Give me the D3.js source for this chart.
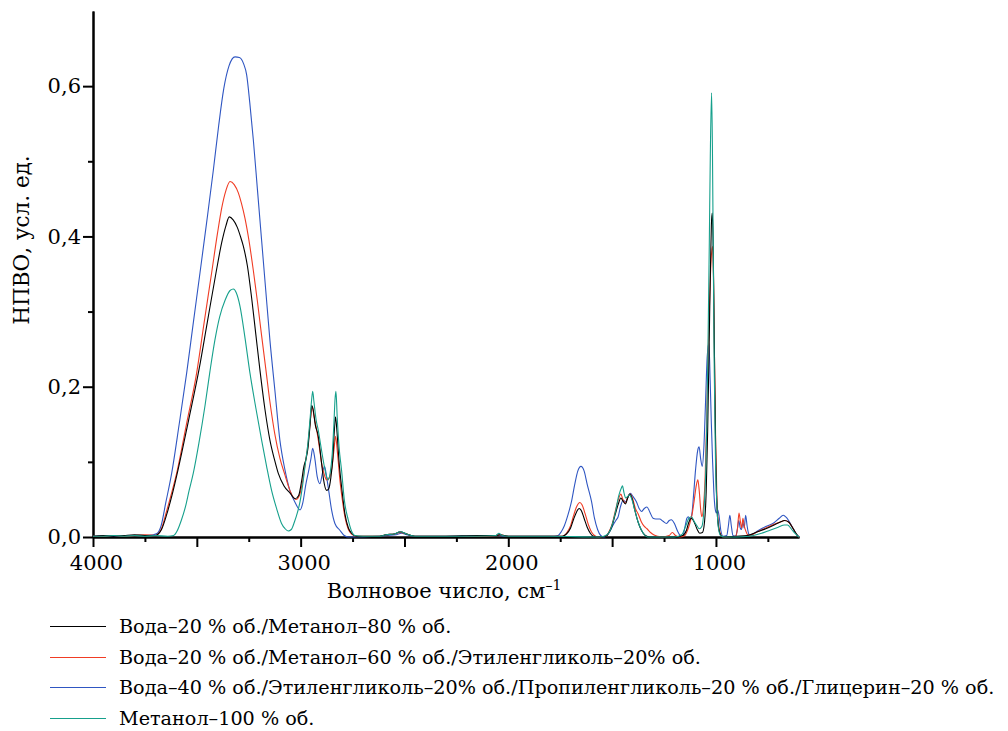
<!DOCTYPE html>
<html>
<head>
<meta charset="utf-8">
<title>НПВО спектры</title>
<style>
  body { margin: 0; background: #fff; }
  .axis path, .axis line { stroke: #000; stroke-width: 2; fill: none; }
  .spec { fill: none; stroke-width: 1.1; stroke-linejoin: round; }
</style>
</head>
<body>
<svg width="1008" height="731"></svg>
<script src="https://cdn.jsdelivr.net/npm/d3@7"></script>
<script>
// spectra: [wavenumber, absorbance]
var specWater20Meth80 = [
  [4000,0.001],[3950,0.002],[3900,0.001],[3850,0.002],[3800,0.003],[3750,0.002],[3700,0.002],[3690,0.003],[3670,0.01],[3645,0.03],[3620,0.055],[3590,0.09],[3540,0.155],[3488,0.225],[3450,0.285],[3408,0.351],[3380,0.392],[3360,0.414],[3344,0.426],[3325,0.422],[3305,0.412],[3290,0.4],[3276,0.387],[3256,0.36],[3236,0.318],[3216,0.27],[3196,0.222],[3172,0.17],[3148,0.129],[3125,0.102],[3108,0.085],[3080,0.068],[3050,0.058],[3027,0.051],[3010,0.055],[2995,0.075],[2985,0.093],[2975,0.103],[2965,0.118],[2955,0.148],[2947,0.175],[2940,0.17],[2930,0.15],[2915,0.134],[2900,0.1],[2890,0.077],[2875,0.062],[2865,0.064],[2855,0.078],[2845,0.105],[2838,0.14],[2832,0.16],[2825,0.14],[2815,0.1],[2800,0.06],[2787,0.031],[2770,0.012],[2755,0.005],[2730,0.001],[2620,0.001],[2590,0.003],[2550,0.004],[2520,0.007],[2490,0.004],[2450,0.001],[2300,0.001],[2150,0.002],[2060,0.002],[2040,0.003],[2000,0.001],[1760,0.001],[1740,0.001],[1720,0.004],[1700,0.012],[1685,0.024],[1670,0.034],[1659,0.038],[1648,0.035],[1635,0.025],[1620,0.013],[1605,0.005],[1590,0.001],[1570,0],[1530,0.001],[1515,0.006],[1500,0.015],[1485,0.03],[1470,0.044],[1458,0.052],[1448,0.048],[1436,0.044],[1425,0.052],[1415,0.057],[1405,0.052],[1390,0.035],[1375,0.02],[1359,0.009],[1340,0.002],[1320,0],[1200,0],[1160,0.002],[1142,0.009],[1130,0.02],[1118,0.025],[1102,0.018],[1090,0.01],[1078,0.005],[1065,0.006],[1055,0.02],[1047,0.06],[1040,0.14],[1033,0.25],[1027,0.35],[1022,0.415],[1018,0.431],[1014,0.4],[1010,0.31],[1005,0.19],[1000,0.09],[994,0.035],[987,0.012],[978,0.003],[965,0],[900,0.001],[850,0.002],[836,0.003],[800,0.007],[760,0.011],[720,0.016],[690,0.02],[670,0.022],[650,0.02],[630,0.012],[615,0.005],[605,0.001],[600,0]
];
var specWater20Meth60EG20 = [
  [4000,0.001],[3950,0.001],[3900,0.002],[3850,0.001],[3800,0.002],[3750,0.003],[3700,0.002],[3690,0.003],[3672,0.01],[3645,0.035],[3620,0.06],[3597,0.085],[3550,0.15],[3501,0.218],[3465,0.285],[3429,0.351],[3400,0.405],[3380,0.438],[3360,0.461],[3340,0.473],[3320,0.469],[3300,0.458],[3285,0.444],[3268,0.424],[3248,0.393],[3228,0.355],[3208,0.313],[3188,0.268],[3168,0.224],[3148,0.18],[3125,0.138],[3100,0.105],[3075,0.082],[3052,0.062],[3023,0.05],[3005,0.056],[2990,0.075],[2978,0.098],[2965,0.122],[2955,0.15],[2944,0.173],[2935,0.16],[2920,0.138],[2910,0.12],[2899,0.098],[2885,0.082],[2875,0.076],[2862,0.079],[2848,0.095],[2838,0.12],[2832,0.134],[2822,0.11],[2811,0.076],[2797,0.045],[2787,0.027],[2770,0.01],[2755,0.004],[2730,0.001],[2620,0.001],[2590,0.003],[2550,0.004],[2520,0.006],[2490,0.004],[2450,0.001],[2300,0.001],[2150,0.001],[2060,0.002],[2040,0.003],[2000,0.001],[1760,0.001],[1740,0.001],[1720,0.005],[1700,0.015],[1685,0.029],[1670,0.041],[1655,0.046],[1645,0.043],[1630,0.031],[1615,0.017],[1600,0.007],[1585,0.002],[1570,0],[1530,0.001],[1515,0.007],[1500,0.017],[1485,0.034],[1470,0.05],[1458,0.057],[1448,0.05],[1436,0.045],[1425,0.053],[1413,0.057],[1400,0.05],[1388,0.038],[1375,0.031],[1359,0.02],[1345,0.014],[1332,0.011],[1315,0.006],[1300,0.003],[1280,0.001],[1260,0],[1225,0.002],[1210,0.006],[1195,0.002],[1175,0],[1150,0.002],[1138,0.008],[1126,0.018],[1115,0.03],[1105,0.048],[1095,0.068],[1087,0.076],[1080,0.06],[1073,0.035],[1068,0.027],[1060,0.04],[1052,0.08],[1045,0.15],[1038,0.24],[1030,0.32],[1023,0.37],[1016,0.387],[1012,0.35],[1007,0.24],[1001,0.12],[995,0.05],[988,0.018],[978,0.004],[965,0],[905,0.001],[896,0.012],[889,0.032],[882,0.02],[876,0.012],[870,0.025],[864,0.015],[856,0.008],[848,0.003],[838,0.002],[800,0.007],[760,0.012],[720,0.017],[690,0.02],[668,0.022],[650,0.02],[630,0.012],[615,0.005],[605,0.001],[600,0]
];
var specWater40Glycols = [
  [4000,0.001],[3950,0.002],[3900,0.001],[3850,0.002],[3800,0.002],[3750,0.002],[3710,0.003],[3690,0.005],[3672,0.015],[3650,0.045],[3621,0.085],[3585,0.15],[3549,0.218],[3517,0.285],[3485,0.351],[3453,0.418],[3421,0.487],[3395,0.547],[3370,0.597],[3345,0.627],[3316,0.639],[3295,0.638],[3275,0.63],[3260,0.615],[3245,0.578],[3228,0.529],[3208,0.462],[3188,0.395],[3168,0.328],[3148,0.262],[3124,0.195],[3100,0.129],[3076,0.09],[3052,0.062],[3025,0.045],[3003,0.036],[2990,0.045],[2975,0.07],[2960,0.09],[2950,0.105],[2942,0.118],[2932,0.105],[2920,0.08],[2907,0.071],[2895,0.085],[2885,0.094],[2875,0.08],[2865,0.062],[2851,0.036],[2835,0.018],[2811,0.009],[2790,0.002],[2770,0],[2620,0.001],[2580,0.002],[2540,0.003],[2515,0.005],[2490,0.003],[2450,0.001],[2300,0.001],[2150,0.002],[2050,0.002],[2000,0.001],[1780,0.001],[1760,0.002],[1745,0.007],[1730,0.015],[1712,0.03],[1695,0.048],[1680,0.07],[1665,0.088],[1650,0.094],[1635,0.088],[1620,0.07],[1599,0.047],[1585,0.025],[1570,0.01],[1555,0.002],[1540,0],[1525,0.002],[1510,0.008],[1495,0.016],[1482,0.022],[1471,0.027],[1460,0.04],[1447,0.049],[1435,0.047],[1422,0.054],[1412,0.058],[1400,0.054],[1383,0.047],[1370,0.038],[1359,0.034],[1345,0.038],[1332,0.04],[1318,0.033],[1303,0.025],[1290,0.024],[1271,0.024],[1255,0.021],[1238,0.018],[1225,0.022],[1215,0.023],[1200,0.018],[1185,0.008],[1172,0.002],[1160,0.001],[1150,0.012],[1140,0.025],[1133,0.027],[1124,0.023],[1116,0.03],[1108,0.055],[1098,0.09],[1088,0.115],[1081,0.12],[1074,0.105],[1066,0.094],[1058,0.12],[1050,0.18],[1042,0.24],[1034,0.258],[1028,0.21],[1022,0.15],[1016,0.1],[1010,0.06],[1004,0.038],[998,0.032],[991,0.036],[984,0.026],[976,0.008],[966,0.001],[948,0.002],[940,0.015],[933,0.029],[926,0.015],[918,0.002],[905,0.001],[897,0.01],[890,0.022],[883,0.012],[877,0.01],[870,0.02],[864,0.012],[857,0.029],[850,0.015],[842,0.004],[835,0.002],[800,0.008],[760,0.014],[720,0.019],[695,0.025],[676,0.029],[665,0.027],[650,0.022],[630,0.012],[615,0.005],[603,0.001],[600,0]
];
var specMeth100 = [
  [4000,0.001],[3950,0.001],[3900,0.002],[3850,0.001],[3800,0.002],[3750,0.001],[3700,0.002],[3640,0.001],[3612,0.002],[3595,0.008],[3575,0.022],[3555,0.04],[3537,0.062],[3517,0.085],[3490,0.125],[3461,0.174],[3437,0.22],[3413,0.262],[3390,0.293],[3364,0.315],[3340,0.328],[3324,0.33],[3310,0.325],[3292,0.307],[3268,0.265],[3244,0.218],[3216,0.172],[3188,0.129],[3164,0.094],[3140,0.062],[3116,0.038],[3092,0.018],[3075,0.011],[3060,0.008],[3045,0.01],[3030,0.02],[3015,0.033],[3003,0.047],[2990,0.07],[2979,0.094],[2965,0.125],[2955,0.156],[2948,0.18],[2942,0.194],[2936,0.18],[2925,0.155],[2915,0.142],[2905,0.125],[2890,0.1],[2877,0.082],[2867,0.076],[2858,0.085],[2848,0.11],[2840,0.15],[2834,0.185],[2830,0.194],[2824,0.16],[2815,0.12],[2803,0.089],[2790,0.05],[2771,0.023],[2755,0.008],[2739,0.002],[2700,0.001],[2620,0.001],[2590,0.003],[2550,0.004],[2520,0.007],[2490,0.004],[2450,0.001],[2300,0.001],[2150,0.001],[2060,0.002],[2045,0.005],[2030,0.002],[2000,0.001],[1800,0.001],[1560,0],[1540,0.001],[1520,0.004],[1500,0.016],[1482,0.036],[1468,0.055],[1456,0.065],[1450,0.068],[1443,0.059],[1435,0.052],[1425,0.054],[1415,0.056],[1405,0.05],[1390,0.035],[1375,0.02],[1360,0.01],[1345,0.003],[1330,0],[1200,0],[1165,0.003],[1145,0.015],[1130,0.025],[1118,0.027],[1105,0.021],[1094,0.016],[1080,0.011],[1068,0.014],[1058,0.035],[1050,0.08],[1044,0.15],[1038,0.26],[1032,0.39],[1027,0.51],[1021,0.591],[1017,0.52],[1013,0.38],[1008,0.22],[1002,0.1],[995,0.04],[988,0.012],[978,0.002],[960,0],[900,0],[840,0.001],[820,0.002],[780,0.005],[740,0.009],[700,0.013],[670,0.016],[655,0.016],[635,0.01],[620,0.005],[605,0.001],[600,0]
];

var seriesNames = [
  "Вода–20 % об./Метанол–80 % об.",
  "Вода–20 % об./Метанол–60 % об./Этиленгликоль–20% об.",
  "Вода–40 % об./Этиленгликоль–20% об./Пропиленгликоль–20 % об./Глицерин–20 % об.",
  "Метанол–100 % об."
];
var seriesColors = ["#000000", "#f03c24", "#2f56c2", "#16a08c"];
var seriesData = [specWater20Meth80, specWater20Meth60EG20, specWater40Glycols, specMeth100];

var xMajorTicks = [4000, 3500, 3000, 2500, 2000, 1500, 1000];
var xMinorTicks = [3750, 3250, 2750, 2250, 1750, 1250, 750];
var xLabelTicks = [4000, 3000, 2000, 1000];
var yMajorTicks = [0, 0.2, 0.4, 0.6];
var yMinorTicks = [0.1, 0.3, 0.5];

var serif = "'DejaVu Serif', 'Liberation Serif', serif";

var svg = d3.select("svg").attr("font-family", serif);

var x = d3.scaleLinear().domain([4000, 600]).range([93, 799]),
    y = d3.scaleLinear().domain([0, 0.7]).range([537, 11]);

// axes
var xAxisG = svg.append("g")
    .attr("class", "axis")
    .attr("transform", "translate(0,537)")
    .call(d3.axisBottom(x).tickValues(xMajorTicks).tickSize(10).tickSizeOuter(0).tickPadding(8)
      .tickFormat(function(d) { return xLabelTicks.indexOf(d) >= 0 ? d : ""; }))
    .attr("font-family", serif)
    .attr("font-size", 21);
xAxisG.selectAll("text").attr("dx", 3);
svg.append("g")
    .attr("class", "axis")
    .attr("transform", "translate(0,537)")
    .call(d3.axisBottom(x).tickValues(xMinorTicks).tickSize(5).tickSizeOuter(0).tickFormat(""));

svg.append("g")
    .attr("class", "axis")
    .attr("transform", "translate(93,0)")
    .call(d3.axisLeft(y).tickValues(yMajorTicks).tickSize(10).tickSizeOuter(0).tickPadding(2)
      .tickFormat(function(d) { return d3.format(".1f")(d).replace(".", ","); }))
    .attr("font-family", serif)
    .attr("font-size", 21);
svg.append("g")
    .attr("class", "axis")
    .attr("transform", "translate(93,0)")
    .call(d3.axisLeft(y).tickValues(yMinorTicks).tickSize(5).tickSizeOuter(0).tickFormat(""));

// spectra
var line = d3.line()
    .curve(d3.curveMonotoneX)
    .x(function(d) { return x(d[0]); })
    .y(function(d) { return y(d[1]); });

var drawOrder = [2, 1, 0, 3];
svg.append("g").selectAll("path")
    .data(drawOrder)
  .enter().append("path")
    .attr("class", "spec")
    .attr("stroke", function(i) { return seriesColors[i]; })
    .attr("d", function(i) { return line(seriesData[i]); });

// axis titles
var xTitle = svg.append("text")
    .attr("x", 444)
    .attr("y", 598)
    .attr("text-anchor", "middle")
    .attr("font-size", 21)
    .text("Волновое число, см");
xTitle.append("tspan")
    .attr("dy", -8)
    .attr("font-size", 14)
    .text("–1");

svg.append("text")
    .attr("transform", "translate(29,240) rotate(-90)")
    .attr("text-anchor", "middle")
    .attr("font-size", 21.5)
    .text("НПВО, усл. ед.");

// legend
var legend = svg.append("g").selectAll("g")
    .data(seriesNames)
  .enter().append("g")
    .attr("transform", function(d, i) { return "translate(0," + (626.5 + Math.round(i * 30.7)) + ")"; });

legend.append("line")
    .attr("x1", 50).attr("x2", 106)
    .attr("stroke", function(d, i) { return seriesColors[i]; })
    .attr("stroke-width", 1.2);

legend.append("text")
    .attr("x", 119)
    .attr("dy", "0.35em")
    .attr("font-size", 19.2)
    .text(function(d) { return d; });
</script>
</body>
</html>
